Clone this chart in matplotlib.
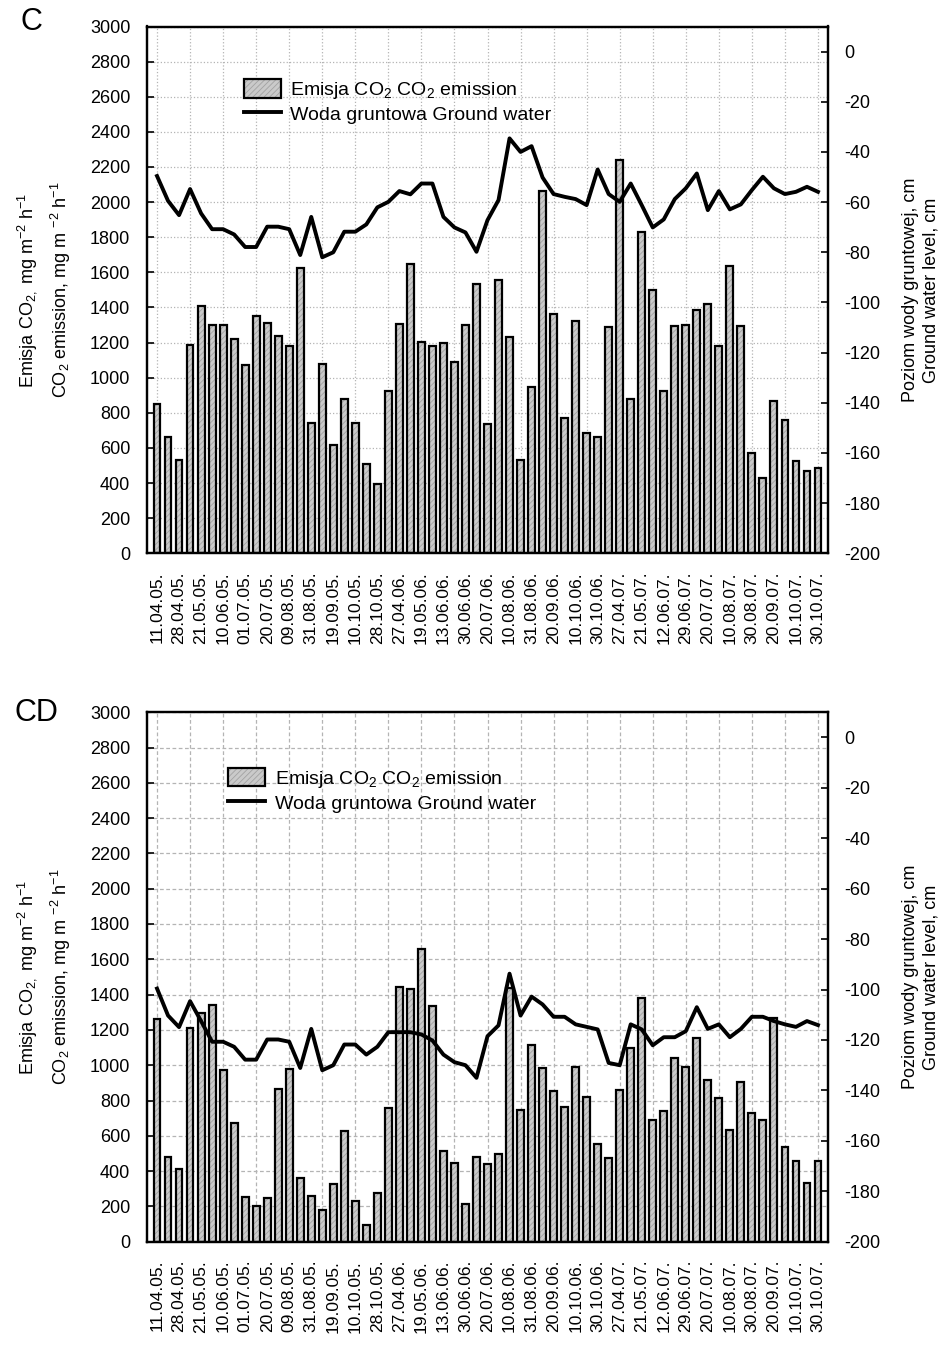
import numpy as np
import matplotlib.pyplot as plt

plt.rcParams['font.family'] = ['Liberation Sans', 'DejaVu Sans']
plt.rcParams['mathtext.fontset'] = 'custom'
plt.rcParams['mathtext.rm'] = 'Liberation Sans'
plt.rcParams['mathtext.it'] = 'Liberation Sans:italic'
plt.rcParams['mathtext.bf'] = 'Liberation Sans:bold'
plt.rcParams['axes.unicode_minus'] = False
plt.rcParams['hatch.linewidth'] = 0.6

# Daty pomiarów (etykieta co drugi pomiar)
dates = ['11.04.05.', '28.04.05.', '21.05.05.', '10.06.05.', '01.07.05.', '20.07.05.',
         '09.08.05.', '31.08.05.', '19.09.05.', '10.10.05.', '28.10.05.', '27.04.06.',
         '19.05.06.', '13.06.06.', '30.06.06.', '20.07.06.', '10.08.06.', '31.08.06.',
         '20.09.06.', '10.10.06.', '30.10.06.', '27.04.07.', '21.05.07.', '12.06.07.',
         '29.06.07.', '20.07.07.', '10.08.07.', '30.08.07.', '20.09.07.', '10.10.07.',
         '30.10.07.']

# Panel C - emisja CO2 (mg m-2 h-1) i poziom wody gruntowej (cm)
co2_c = [850, 660, 530, 1187, 1410, 1300, 1300, 1223, 1073, 1349,
         1314, 1240, 1182, 1625, 741, 1079, 617, 881, 744, 511,
         393, 927, 1307, 1647, 1206, 1182, 1197, 1092, 1301, 1533,
         735, 1558, 1229, 532, 946, 2065, 1364, 773, 1324, 687,
         665, 1288, 2238, 880, 1827, 1501, 927, 1292, 1301, 1387,
         1421, 1178, 1638, 1292, 573, 427, 870, 760, 526, 469, 485]
gw_c = [-49.6, -59.5, -65.2, -54.8, -64.5, -70.8, -70.8, -72.9, -77.9, -77.9,
        -69.8, -69.8, -70.8, -81.1, -65.9, -82.0, -80.0, -71.8, -71.8, -68.9,
        -62.1, -59.9, -55.6, -56.9, -52.6, -52.6, -65.9, -70.1, -72.1, -79.8,
        -67.2, -59.2, -34.6, -40.0, -37.7, -50.2, -56.8, -57.9, -58.8, -61.2,
        -47.0, -56.8, -59.9, -52.6, -61.2, -70.1, -66.9, -58.8, -54.5, -48.6,
        -63.2, -55.6, -62.9, -60.9, -55.2, -49.9, -54.5, -56.8, -55.9, -53.9, -55.9]

# Panel CD
co2_cd = [1260, 482, 410, 1209, 1298, 1341, 973, 671, 255, 204,
          246, 863, 980, 359, 261, 180, 325, 627, 231, 95,
          274, 759, 1443, 1432, 1657, 1337, 514, 448, 214, 480,
          440, 497, 1436, 746, 1115, 986, 856, 765, 992, 822,
          555, 472, 860, 1096, 1383, 690, 740, 1039, 992, 1152,
          916, 816, 633, 907, 731, 690, 1266, 538, 459, 331, 457]
gw_cd = [-99.6, -110.3, -114.9, -104.6, -112.5, -120.7, -120.7, -122.7, -127.8, -127.8,
         -119.8, -119.8, -120.7, -131.1, -115.6, -132.0, -130.0, -121.8, -121.8, -125.8,
         -122.7, -116.9, -116.9, -116.9, -117.8, -120.2, -125.8, -128.8, -130.0, -135.0,
         -118.5, -114.2, -93.7, -110.3, -102.8, -105.9, -110.8, -110.8, -113.8, -114.8,
         -115.8, -129.1, -130.0, -113.8, -115.8, -122.1, -118.9, -118.9, -116.5, -107.0,
         -115.6, -113.8, -118.9, -115.6, -110.8, -110.8, -112.5, -113.8, -114.8, -112.5, -114.1]

ylab_left = 'Emisja CO$_{2,}$ mg m$^{-2}$ h$^{-1}$\nCO$_2$ emission, mg m $^{-2}$ h$^{-1}$'
ylab_right = 'Poziom wody gruntowej, cm\nGround water level, cm'
leg_labels = ['Emisja CO$_2$ CO$_2$ emission', 'Woda gruntowa Ground water']

fig = plt.figure(figsize=(9.44, 13.5), dpi=100)


def panel(rect, co2, gw, letter, letter_xy, grid_ls, leg_xy):
    ax = fig.add_axes(rect)
    x = np.arange(len(co2))
    fill = ax.bar(x, co2, width=0.62, color='#cacaca', edgecolor='#a2a2a2',
                  hatch='//////', linewidth=0, zorder=2)
    edge = ax.bar(x, co2, width=0.62, fill=False, edgecolor='black',
                  linewidth=1.6, zorder=3)
    ax.set_xlim(-0.91, len(co2) - 1 + 0.91)
    ax.set_ylim(0, 3000)
    ax.set_yticks(np.arange(0, 3001, 200))
    # etykiety dat co 2 słupki, siatka i znaczniki co 3 słupki
    ax.set_xticks(np.arange(0, len(co2), 2), labels=dates, rotation=90)
    ax.set_xticks(np.arange(0, len(co2), 3), minor=True)
    ax.xaxis.remove_overlapping_locs = False
    ax.tick_params(axis='x', which='major', length=0, labelsize=12.5, pad=13)
    ax.tick_params(axis='x', which='minor', direction='in', length=4, width=1.2)
    ax.tick_params(axis='y', direction='in', length=5, width=1.2, labelsize=13, pad=12)
    ax.set_axisbelow(True)
    ax.grid(True, axis='y', which='major', color='#b4b4b4', linestyle=grid_ls, linewidth=0.9)
    ax.grid(True, axis='x', which='minor', color='#b4b4b4', linestyle=grid_ls, linewidth=0.9)
    for s in ax.spines.values():
        s.set_linewidth(1.6)

    ax2 = ax.twinx()
    line, = ax2.plot(x, gw, color='black', linewidth=2.8, zorder=4)
    ax2.set_ylim(-200, 10)
    ax2.set_yticks(np.arange(-200, 1, 20))
    ax2.tick_params(axis='y', direction='in', length=5, width=1.2, labelsize=13, pad=12)
    for s in ax2.spines.values():
        s.set_linewidth(1.6)

    ax2.legend(handles=[(fill, edge), line], labels=leg_labels, loc='upper left',
               bbox_to_anchor=leg_xy, frameon=False, fontsize=14, handlelength=1.9,
               handleheight=1.1, handletextpad=0.5, labelspacing=0.15,
               borderaxespad=0, borderpad=0)

    yc = rect[1] + rect[3] / 2
    fig.text(44 / 944, yc, ylab_left, rotation=90, ha='center', va='center',
             fontsize=13, linespacing=1.5, multialignment='center')
    fig.text(921 / 944, yc, ylab_right, rotation=90, ha='center', va='center',
             fontsize=13, linespacing=1.3, multialignment='center')
    fig.text(letter_xy[0], letter_xy[1], letter, fontsize=22, ha='left', va='center')


panel([147 / 944, 1 - 553.3 / 1350, 681 / 944, 526.8 / 1350], co2_c, gw_c,
      'C', (20 / 944, 1 - 22 / 1350), ':', (0.142, 0.9))
panel([147 / 944, 1 - 1241.7 / 1350, 681 / 944, 529.5 / 1350], co2_cd, gw_cd,
      'CD', (14 / 944, 1 - 713 / 1350), (0, (3, 2)), (0.119, 0.895))

plt.savefig('out.png', dpi=100)
